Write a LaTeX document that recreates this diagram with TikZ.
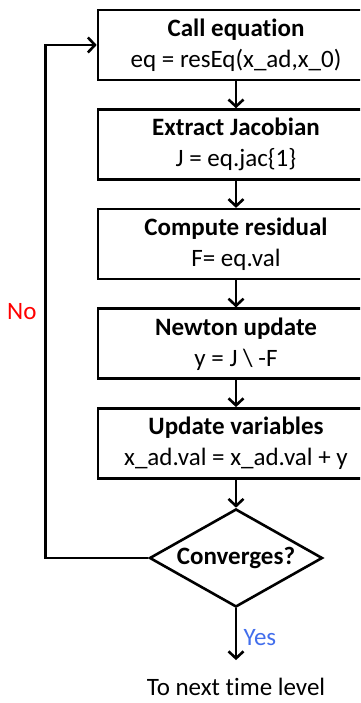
\documentclass[tikz,border=0pt]{standalone}
\usepackage{fontspec}
\setmainfont{Carlito}[Ligatures=CommonOff]
\usepackage{xcolor}
\usepackage{tikz}
\usetikzlibrary{arrows.meta,positioning,shapes.geometric}
\definecolor{yesblue}{RGB}{66,110,236}

\begin{document}
\begin{tikzpicture}[x=1pt, y=1pt, node distance=27pt, font=\fontsize{25}{31}\selectfont]
        \tikzset{stepbox/.style={rectangle, draw, line width=2.6pt, minimum width=276pt, minimum height=70pt, inner sep=0pt, align=center}}
        \tikzset{decide/.style={diamond, draw, line width=2.6pt, aspect=1.77, minimum width=173pt, minimum height=98pt, inner sep=0pt}}
        \tikzset{flow/.style={line width=2.6pt, -{Straight Barb[length=7pt, width=15pt, line width=2.6pt]}}}
        \useasboundingbox (0,0) rectangle (360,703);
        \clip (0,0) rectangle (360,703);
        
        % Steps of the Newton loop
        \node [stepbox] (call) at (236,658) {\textbf{Call equation}\\eq = resEq(x\_ad,x\_0)};
        \node [stepbox, below=of call] (jac) {\textbf{Extract Jacobian}\\J = eq.jac\{1\}};
        \node [stepbox, below=of jac] (res) {\textbf{Compute residual}\\F= eq.val};
        \node [stepbox, below=of res] (newton) {\textbf{Newton update}\\y = J \textbackslash\ -F};
        \node [stepbox, below=of newton] (upd) {\textbf{Update variables}\\x\_ad.val = x\_ad.val + y};
        \node [decide, below=28pt of upd] (conv) {\textbf{Converges?}};
        \node [anchor=base] (next) at (236,7) {To next time level};
        
        % Connections
        \draw [flow] (call) -- (jac);
        \draw [flow] (jac) -- (res);
        \draw [flow] (res) -- (newton);
        \draw [flow] (newton) -- (upd);
        \draw [flow] (upd) -- (conv);
        \draw [flow] (conv.west) -- ++(-103,0) |- node [pos=0.24, left=4pt, text=red] {No} (call.west);
        \draw [flow, shorten >=15pt] (conv.south) -- node [pos=0.44, right=3pt, text=yesblue] {Yes} (next.north);
    \end{tikzpicture}
\end{document}
